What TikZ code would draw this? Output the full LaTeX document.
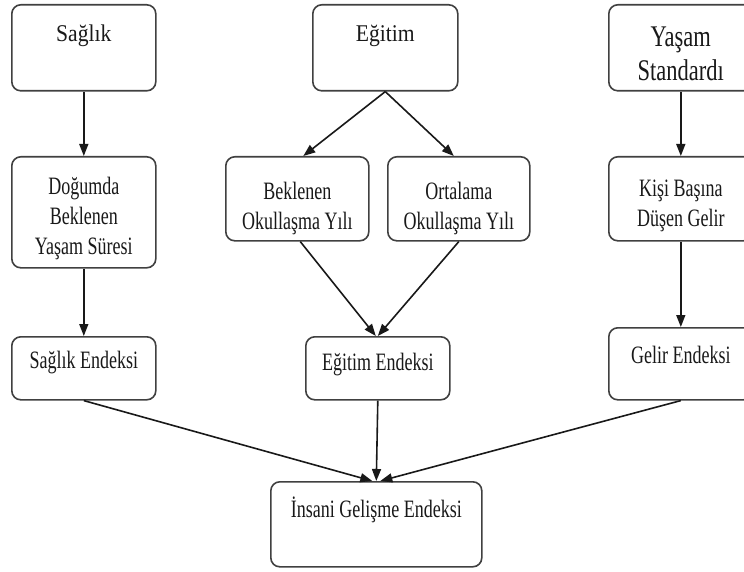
\documentclass[tikz,border=0pt]{standalone}
\usepackage{fontspec}
\setmainfont{Liberation Serif}
\newfontfamily\topfont{Liberation Serif}[FakeStretch=0.9]
\newfontfamily\condfont{Liberation Serif}[FakeStretch=0.72]
\newfontfamily\condfontb{Liberation Serif}[FakeStretch=0.75]
\usetikzlibrary{arrows.meta}
\newcommand\boxtxt[4]{\parbox[t][#2pt][t]{#1pt}{\centering\rule{0pt}{#3pt}#4}}
\begin{document}
\begin{tikzpicture}[x=1pt,y=-1pt,
  box/.style={draw=black!75, line width=1.6pt, rounded corners=9pt, inner sep=0pt, anchor=north west, fill=white, text=black!90},
  topf/.style={font=\fontsize{24}{28}\selectfont\topfont},
  midf/.style={font=\fontsize{30}{34}\selectfont\condfontb},
  lowf/.style={font=\fontsize{25}{30}\selectfont\condfont},
  arr/.style={-{Triangle[length=12pt,width=9pt]}, line width=1.6pt, draw=black!90, fill=black!90}]
\useasboundingbox (0,0) rectangle (744,572);
% top row
\node[box,topf] (saglik) at (11,4) {\boxtxt{144}{86}{37}{Sağlık}};
\node[box,topf] (egitim) at (312,4) {\boxtxt{145}{86}{37}{Eğitim}};
\node[box,midf] (yasam) at (608,4) {\boxtxt{144}{86}{42}{Yaşam\\Standardı}};
% second row
\node[box,lowf] (dogum) at (11,156) {\boxtxt{144}{111}{38}{Doğumda\\Beklenen\\Yaşam Süresi}};
\node[box,lowf] (bekl) at (225,156) {\boxtxt{143}{84}{43}{Beklenen\\Okullaşma Yılı}};
\node[box,lowf] (ort) at (387,156) {\boxtxt{142}{84}{43}{Ortalama\\Okullaşma Yılı}};
\node[box,lowf] (kisi) at (608,156) {\boxtxt{144}{84}{40}{Kişi Başına\\Düşen Gelir}};
% third row
\node[box,lowf] (sendx) at (11,336) {\boxtxt{144}{63}{32}{Sağlık Endeksi}};
\node[box,lowf] (eendx) at (305,336) {\boxtxt{144}{63}{34}{Eğitim Endeksi}};
\node[box,lowf] (gendx) at (608,327) {\boxtxt{144}{72}{36}{Gelir Endeksi}};
% bottom
\node[box,lowf] (ige) at (270,481) {\boxtxt{211}{85}{36}{İnsani Gelişme Endeksi}};
% connectors
\draw[arr] (saglik.south) -- (dogum.north);
\draw[arr] (egitim.south) -- ([xshift=6pt]bekl.north);
\draw[arr] (egitim.south) -- ([xshift=-5pt]ort.north);
\draw[arr] (yasam.south) -- (kisi.north);
\draw[arr] (dogum.south) -- (sendx.north);
\draw[arr] ([xshift=3pt]bekl.south) -- ([xshift=-2pt]eendx.north);
\draw[arr] (ort.south) -- (eendx.north);
\draw[arr] (kisi.south) -- (gendx.north);
\draw[arr] (sendx.south) -- ([xshift=-4pt]ige.north);
\draw[arr] (eendx.south) -- (ige.north);
\draw[arr] (gendx.south) -- ([xshift=4pt]ige.north);
\end{tikzpicture}
\end{document}
